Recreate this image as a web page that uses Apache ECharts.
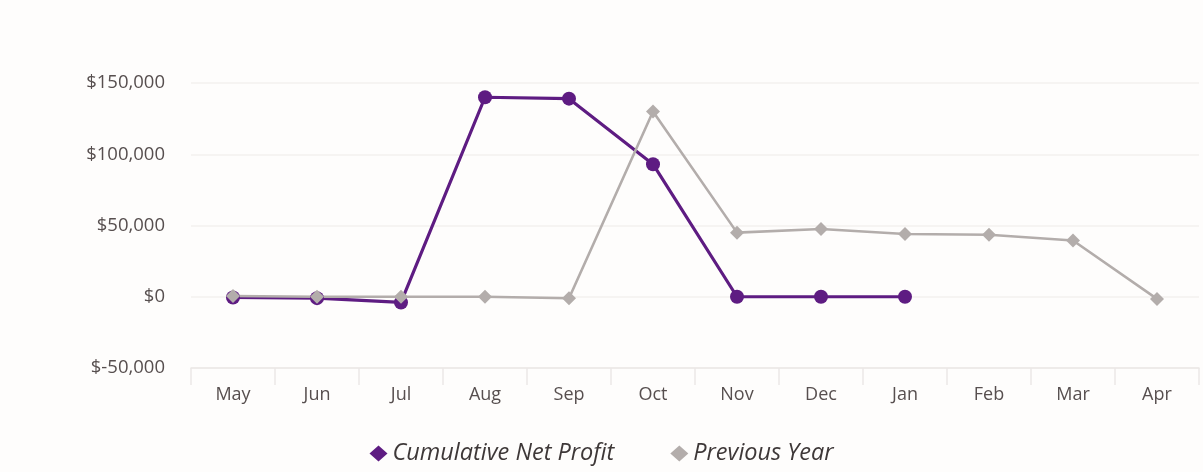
<!DOCTYPE html>
<html>
<head>
<meta charset="utf-8">
<script src="https://cdn.jsdelivr.net/npm/echarts@6/dist/echarts.min.js"></script>
<style>
  html, body { margin: 0; padding: 0; background: #fefdfc; }
  #main { width: 1203px; height: 472px; }
</style>
</head>
<body>
<div id="main"></div>
<script>
var months = ['May', 'Jun', 'Jul', 'Aug', 'Sep', 'Oct', 'Nov', 'Dec', 'Jan', 'Feb', 'Mar', 'Apr'];
var netProfit = [-500, -1000, -4000, 140000, 139000, 93000, 0, 0, 0];
var prevYear = [500, 0, 0, 0, -1000, 130000, 45000, 47500, 44000, 43500, 39500, -1500];
var yTicks = [-50000, 150000, 50000]; // min, max, step

var chart = echarts.init(document.getElementById('main'));
var option = {
	backgroundColor: '#fefdfc',
	textStyle: { fontFamily: 'Open Sans' },
	grid: { left: 191, right: 4, top: 83, bottom: 104 },
	legend: {
		top: 437,
		left: 'center',
		itemGap: 56,
		itemWidth: 18,
		itemHeight: 16,
		textStyle: { fontSize: 23.5, fontStyle: 'italic', color: '#3e3838', fontFamily: 'Open Sans' },
		data: [
			{ name: 'Cumulative Net Profit', icon: 'diamond' },
			{ name: 'Previous Year', icon: 'diamond' }
		]
	},
	xAxis: {
		type: 'category',
		data: months,
		boundaryGap: true,
		axisLine: { onZero: false, lineStyle: { color: '#ebe8e6', width: 1.5 } },
		axisTick: { show: true, length: 17, lineStyle: { color: '#ebe8e6', width: 1.5 } },
		axisLabel: { color: '#574f4f', fontSize: 18, margin: 18 }
	},
	yAxis: {
		type: 'value',
		min: yTicks[0],
		max: yTicks[1],
		interval: yTicks[2],
		axisLine: { show: false },
		axisTick: { show: false },
		splitLine: { lineStyle: { color: '#f3f1ef', width: 1.5 } },
		axisLabel: {
			color: '#574f4f',
			fontSize: 18.5,
			margin: 26,
			formatter: function (v) {
				return '$' + v.toLocaleString('en-US');
			}
		}
	},
	series: [
		{
			name: 'Cumulative Net Profit',
			type: 'line',
			data: netProfit,
			symbol: 'circle',
			symbolSize: 14,
			itemStyle: { color: '#5e1c82' },
			lineStyle: { color: '#5e1c82', width: 3.2 }
		},
		{
			name: 'Previous Year',
			type: 'line',
			data: prevYear,
			symbol: 'diamond',
			symbolSize: 14,
			itemStyle: { color: '#b3adab' },
			lineStyle: { color: '#b3adab', width: 2.6 }
		}
	]
};
chart.setOption(option);
</script>
</body>
</html>
